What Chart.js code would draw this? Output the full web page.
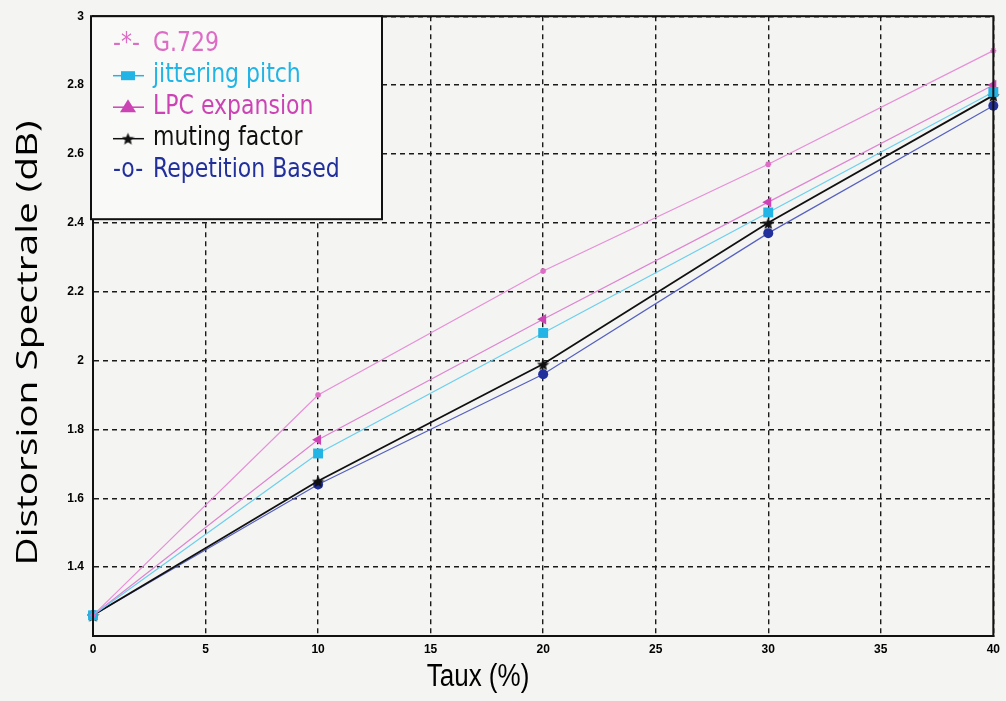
<!DOCTYPE html>
<html>
<head>
<meta charset="utf-8">
<script src="https://cdn.jsdelivr.net/npm/chart.js@4/dist/chart.umd.min.js"></script>
<style>
  html, body { margin: 0; padding: 0; background: #f4f4f2; }
  #zone { width: 1006px; height: 701px; }
</style>
</head>
<body>
<div id="zone"><canvas id="grafico" width="1006" height="701"></canvas></div>
<script>
// Distorsion spectrale mesurée pour chaque taux de perte (%)
const taux = [0, 10, 20, 30, 40]
const g729 = [1.26, 1.90, 2.26, 2.57, 2.90]
const jitteringPitch = [1.26, 1.73, 2.08, 2.43, 2.78]
const lpcExpansion = [1.26, 1.77, 2.12, 2.46, 2.80]
const mutingFactor = [1.26, 1.65, 1.99, 2.40, 2.77]
const repetitionBased = [1.26, 1.64, 1.96, 2.37, 2.74]

const nomsSeries = ['G.729', 'jittering pitch', 'LPC expansion', 'muting factor', 'Repetition Based']
const ticksTaux = [0, 5, 10, 15, 20, 25, 30, 35, 40]
const ticksDistorsion = [1.2, 1.4, 1.6, 1.8, 2, 2.2, 2.4, 2.6, 2.8, 3]

const couleurs = {
    g729: '#dc6cc4',
    jitter: '#22b4e4',
    lpc: '#cc44b4',
    muting: '#101010',
    repetition: '#22309c',
}

// étoile pleine à 5 branches (pointStyle image)
const crearEstrella = (taille, couleur) => {
    const c = document.createElement('canvas')
    c.width = taille
    c.height = taille
    const g = c.getContext('2d')
    const r = taille / 2
    const ri = r * 0.45
    g.beginPath()
    for (let k = 0; k < 10; k++) {
        const rr = k % 2 ? ri : r
        const a = -Math.PI / 2 + k * Math.PI / 5
        g.lineTo(r + rr * Math.cos(a), r + 1 + rr * Math.sin(a))
    }
    g.closePath()
    g.fillStyle = couleur
    g.fill()
    return c
}
const estrellaNegra = crearEstrella(13, couleurs.muting)

const puntos = (ys) => taux.map((t, i) => ({ x: t, y: ys[i] }))

const datasets = [
    {
        label: nomsSeries[0], data: puntos(g729),
        borderColor: '#e690d8', borderWidth: 1.2,
        pointStyle: 'star', pointRadius: 3, pointBorderColor: couleurs.g729, pointBorderWidth: 1.5,
        pointBackgroundColor: couleurs.g729,
    },
    {
        label: nomsSeries[1], data: puntos(jitteringPitch),
        borderColor: '#6ccfee', borderWidth: 1.2,
        pointStyle: 'rect', pointRadius: 7, pointBorderWidth: 0,
        pointBackgroundColor: couleurs.jitter,
    },
    {
        label: nomsSeries[2], data: puntos(lpcExpansion),
        borderColor: '#de84d2', borderWidth: 1.2,
        pointStyle: 'triangle', pointRotation: 270, pointRadius: 6, pointBorderWidth: 0,
        pointBackgroundColor: couleurs.lpc,
    },
    {
        label: nomsSeries[3], data: puntos(mutingFactor),
        borderColor: couleurs.muting, borderWidth: 1.8,
        pointStyle: estrellaNegra, pointRadius: 6,
    },
    {
        label: nomsSeries[4], data: puntos(repetitionBased),
        borderColor: '#5560c0', borderWidth: 1.2,
        pointStyle: 'circle', pointRadius: 5, pointBorderWidth: 0,
        pointBackgroundColor: couleurs.repetition,
    },
].map(d => ({ ...d, tension: 0, fill: false, clip: false }))

// fond, cadre, légende et titres des axes
const decor = {
    id: 'decor',
    beforeDraw(chart) {
        const ctx = chart.ctx
        ctx.save()
        ctx.fillStyle = '#f4f4f2'
        ctx.fillRect(0, 0, chart.width, chart.height)
        ctx.restore()
    },
    afterDraw(chart) {
        const ctx = chart.ctx
        const a = chart.chartArea
        ctx.save()
        ctx.strokeStyle = '#111'
        ctx.lineWidth = 2
        ctx.strokeRect(a.left, a.top, a.right - a.left, a.bottom - a.top)

        // légende
        const lx = a.left - 2, ly = a.top, lw = 291, lh = 203
        ctx.fillStyle = '#f9f9f8'
        ctx.fillRect(lx, ly, lw, lh)
        ctx.strokeRect(lx, ly, lw, lh)

        const coulTexte = [couleurs.g729, couleurs.jitter, couleurs.lpc, couleurs.muting, couleurs.repetition]
        ctx.font = '22px "DejaVu Sans"'
        ctx.textBaseline = 'middle'
        for (let i = 0; i < nomsSeries.length; i++) {
            const yy = ly + 28 + i * 31.5
            const xm = lx + 22
            ctx.fillStyle = coulTexte[i]
            ctx.strokeStyle = coulTexte[i]
            ctx.lineWidth = 1.5
            if (i === 0 || i === 4) {
                ctx.save()
                ctx.translate(xm, yy)
                ctx.scale(1, 1.18)
                ctx.fillText(i === 0 ? '-*-' : '-o-', 0, 0)
                ctx.restore()
            } else {
                ctx.beginPath()
                ctx.moveTo(xm, yy)
                ctx.lineTo(xm + 31, yy)
                ctx.stroke()
                const cx = xm + 15
                ctx.beginPath()
                if (i === 1) {
                    ctx.rect(cx - 7, yy - 4.5, 14, 9)
                } else if (i === 2) {
                    ctx.moveTo(cx, yy - 8); ctx.lineTo(cx + 8, yy + 5); ctx.lineTo(cx - 8, yy + 5); ctx.closePath()
                } else {
                    ctx.drawImage(estrellaNegra, cx - 6.5, yy - 7)
                }
                ctx.fill()
            }
            ctx.save()
            ctx.translate(xm + 40, yy)
            ctx.scale(1, 1.18)
            ctx.fillStyle = coulTexte[i]
            ctx.fillText(nomsSeries[i], 0, 0)
            ctx.restore()
        }

        // titres des axes
        ctx.fillStyle = '#000'
        ctx.textAlign = 'center'
        ctx.textBaseline = 'middle'
        ctx.save()
        ctx.translate(478, 677)
        ctx.scale(1, 1.2)
        ctx.font = '26px "Liberation Sans Narrow", "Liberation Sans", sans-serif'
        ctx.fillText('Taux (%)', 0, 0)
        ctx.restore()

        ctx.save()
        ctx.translate(29, 343)
        ctx.rotate(-Math.PI / 2)
        ctx.font = '29px "Open Sans", "Liberation Sans", sans-serif'
        const largeur = ctx.measureText('Distorsion Spectrale (dB)').width
        ctx.scale(445 / largeur, 1)
        ctx.fillText('Distorsion Spectrale (dB)', 0, 0)
        ctx.restore()
        ctx.restore()
    }
}

const grille = {
    display: true,
    color: '#1a1a1a',
    lineWidth: 1.4,
    drawTicks: false,
}

new Chart(document.querySelector('#grafico'), {
    type: 'line',
    data: { datasets },
    options: {
        responsive: false,
        animation: false,
        events: [],
        layout: { padding: { top: 15, right: 6, left: 0, bottom: 0 } },
        plugins: { legend: { display: false }, tooltip: { enabled: false } },
        scales: {
            x: {
                type: 'linear', min: 0, max: 40,
                afterBuildTicks: (s) => { s.ticks = ticksTaux.map(v => ({ value: v })) },
                afterFit: (s) => { s.height = 65 },
                grid: grille,
                border: { display: true, color: '#111', width: 2, dash: [5, 4] },
                ticks: { color: '#000', padding: 6, maxRotation: 0, font: { family: '"Liberation Sans"', size: 12, weight: 'bold' } },
            },
            y: {
                type: 'linear', min: 1.2, max: 3,
                afterBuildTicks: (s) => { s.ticks = ticksDistorsion.map(v => ({ value: v })) },
                afterFit: (s) => { s.width = 93 },
                grid: grille,
                border: { display: true, color: '#111', width: 2, dash: [5, 4] },
                ticks: {
                    color: '#000', padding: 9,
                    font: { family: '"Liberation Sans"', size: 12, weight: 'bold' },
                    callback: (v) => v === 1.2 ? '' : String(v),
                },
            },
        },
    },
    plugins: [decor],
})
</script>
</body>
</html>
